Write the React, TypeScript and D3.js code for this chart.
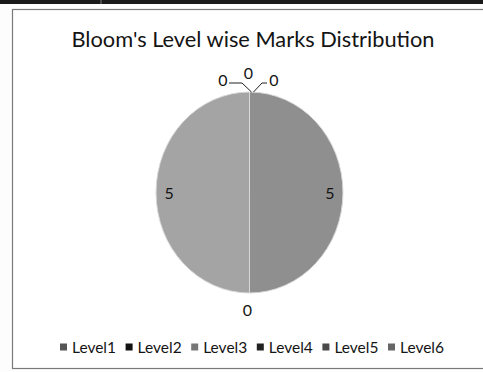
import * as d3 from "d3";

const levels = ["Level1", "Level2", "Level3", "Level4", "Level5", "Level6"];
const marks = [0, 0, 5, 0, 5, 0];
const sliceColors = ["#6a6a6a", "#1e1e1e", "#8f8f8f", "#262626", "#a4a4a4", "#7a7a7a"];
const swatchColors = ["#555", "#111", "#777", "#222", "#4a4a4a", "#666"];
const title = "Bloom's Level wise Marks Distribution";

const W = 483;
const H = 372;
const cx = 249.5;
const cy = 192.5;
const r = 100.5;
const sx = 0.93;
const font = "Lato, 'Open Sans', sans-serif";

export default function App() {
  const pie = d3.pie<number>().sort(null).value((d) => d);
  const arcs = pie(marks);
  const arc = d3.arc<d3.PieArcDatum<number>>().innerRadius(0).outerRadius(r);

  // label placement: non-zero inside, zero outside (spread at top)
  const polar = (a: number, rad: number) => [cx + sx * rad * Math.sin(a), cy - rad * Math.cos(a)];
  const topZeros = arcs.filter((a) => a.value === 0 && (a.startAngle === 0 || a.startAngle === 2 * Math.PI));
  const labels = arcs.map((a, i) => {
    const mid = (a.startAngle + a.endAngle) / 2;
    if (a.value > 0) {
      const [x, y] = polar(mid, r * 0.86);
      return { x, y, text: String(marks[i]), leader: null as null | string };
    }
    const k = topZeros.indexOf(a);
    if (k >= 0) {
      // Excel spreads colliding labels: first left, second up, last right
      const order = k === 0 ? -1 : k === topZeros.length - 1 ? 1 : 0;
      const [tx, ty] = polar(0, r);
      const lx = tx + order * 25.5 - 1;
      const ly = order === 0 ? ty - 19.5 : ty - 13;
      let leader: null | string = null;
      if (order === -1) leader = `M${lx + 6},${ly + 4}H${lx + 19}L${tx + 2},${ty}`;
      if (order === 1) leader = `M${lx - 7},${ly + 4}H${lx - 12}L${tx + 4},${ty}`;
      return { x: lx, y: ly, text: String(marks[i]), leader };
    }
    const [x, y] = polar(mid, r + 16.5);
    return { x: x - 2, y, text: String(marks[i]), leader: null };
  });

  const legendX = d3.scalePoint<string>().domain(levels).range([60, 388]);

  return (
    <svg width={W} height={H} style={{ position: "absolute", left: 0, top: 0, background: "#fff" }}>
      <rect x={0} y={0} width={W} height={H} fill="#fdfdfd" />
      <rect x={0} y={0} width={W} height={4} fill="#1a1a1a" />
      <line x1={101} y1={0} x2={101} y2={4} stroke="#777" />
      <rect x={12.5} y={9.5} width={W + 10} height={359} fill="#fff" stroke="#7a7a7a" strokeWidth={1.2} />
      <text x={253} y={47} textAnchor="middle" fontFamily={font} fontSize={21.8} fill="#141414">
        {title}
      </text>
      <g transform={`translate(${cx},${cy}) scale(${sx},1)`}>
        {arcs.map((a, i) => (
          <path key={levels[i]} d={arc(a) ?? ""} fill={sliceColors[i]} stroke="#d8d8d8" strokeWidth={1} />
        ))}
      </g>
      {labels.map((l, i) =>
        l.leader ? <path key={"ld" + i} d={l.leader} fill="none" stroke="#222" strokeWidth={1} /> : null
      )}
      {labels.map((l, i) => (
        <text
          key={"lb" + i}
          x={l.x}
          y={l.y}
          textAnchor="middle"
          dominantBaseline="central"
          fontFamily={font}
          fontSize={16}
          fill="#141414"
        >
          {l.text}
        </text>
      ))}
      {levels.map((lv, i) => (
        <g key={lv} transform={`translate(${legendX(lv)},0)`}>
          <rect x={0} y={343.5} width={7} height={7} fill={swatchColors[i]} />
          <text x={12} y={353} fontFamily={font} fontSize={15.5} fill="#141414">
            {lv}
          </text>
        </g>
      ))}
    </svg>
  );
}
